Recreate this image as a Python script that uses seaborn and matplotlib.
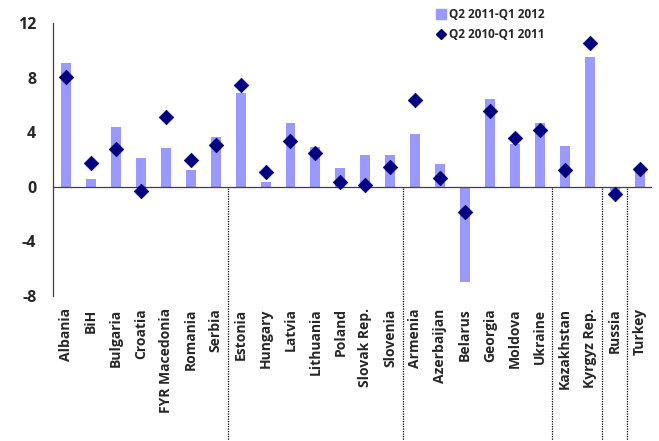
import matplotlib
matplotlib.use("Agg")
import matplotlib.pyplot as plt
import matplotlib.transforms as mtransforms
from matplotlib.lines import Line2D
import seaborn as sns
import pandas as pd

countries = ["Albania", "BiH", "Bulgaria", "Croatia", "FYR Macedonia", "Romania", "Serbia",
             "Estonia", "Hungary", "Latvia", "Lithuania", "Poland", "Slovak Rep.", "Slovenia",
             "Armenia", "Azerbaijan", "Belarus", "Georgia", "Moldova", "Ukraine",
             "Kazakhstan", "Kyrgyz Rep.", "Russia", "Turkey"]
q2_2011_q1_2012 = [9.1, 0.6, 4.4, 2.1, 2.85, 1.25, 3.65,
                   6.85, 0.37, 4.65, 2.9, 1.4, 2.3, 2.3,
                   3.85, 1.65, -7.0, 6.4, 3.1, 4.7,
                   3.0, 9.5, -0.3, 1.3]
q2_2010_q1_2011 = [8.05, 1.72, 2.73, -0.29, 5.1, 1.94, 3.02,
                   7.45, 1.06, 3.32, 2.48, 0.35, 0.15, 1.42,
                   6.32, 0.64, -1.84, 5.58, 3.54, 4.13,
                   1.2, 10.55, -0.55, 1.3]
group_breaks = [6.5, 13.5, 19.5, 21.5, 22.5]
yticks = [-8, -4, 0, 4, 8, 12]

df = pd.DataFrame({"country": countries, "a": q2_2011_q1_2012, "b": q2_2010_q1_2011})

sns.set_style("white")
plt.rcParams["font.family"] = ["Open Sans", "DejaVu Sans"]
plt.rcParams["font.weight"] = "bold"

fig = plt.figure(figsize=(6.59, 4.41), dpi=100)
ax = fig.add_axes([0.0804, 0.329, 0.9086, 0.619])

bar_color = "#9999FF"
dia_color = "#000080"

sns.barplot(data=df, x="country", y="a", color=bar_color, width=0.4, ax=ax,
            saturation=1, edgecolor="none")
sns.scatterplot(data=df, x="country", y="b", marker="D", color=dia_color, s=55,
                edgecolor=dia_color, linewidth=0.5, ax=ax, zorder=5)

ax.set_xlim(-0.52, 23.48)
ax.set_ylim(-8, 12)
ax.set_yticks(yticks)
ax.set_yticklabels([str(t) for t in yticks], fontsize=11.5, fontweight="bold")
ax.set_xlabel("")
ax.set_ylabel("")
ax.tick_params(axis="y", length=0, pad=12)
ax.tick_params(axis="x", length=0, pad=9)
for lab in ax.get_xticklabels():
    lab.set_rotation(90)
    lab.set_fontsize(10)
    lab.set_fontweight("bold")

for s in ["top", "right", "bottom"]:
    ax.spines[s].set_visible(False)
ax.spines["left"].set_color("#404040")
ax.spines["left"].set_linewidth(0.9)
ax.axhline(0, color="#404040", lw=0.9, zorder=4)

trans = mtransforms.blended_transform_factory(ax.transData, fig.transFigure)
for xb in group_breaks:
    ax.plot([xb, xb], [1 - 188 / 441, 0], transform=trans, color="black",
            lw=0.9, ls=(0, (1, 1)), clip_on=False)

handles = [Line2D([0], [0], marker="s", color="none", markerfacecolor=bar_color,
                  markeredgecolor=bar_color, markersize=7, label="Q2 2011-Q1 2012"),
           Line2D([0], [0], marker="D", color="none", markerfacecolor=dia_color,
                  markeredgecolor=dia_color, markersize=5, label="Q2 2010-Q1 2011")]
leg = fig.legend(handles=handles, loc="upper left", bbox_to_anchor=(428 / 659, 1.0),
                 frameon=False, fontsize=8.5, handlelength=0.8, handletextpad=0.3,
                 labelspacing=0.6, borderpad=0.2)
for t in leg.get_texts():
    t.set_fontweight("bold")

fig.savefig("out.png", dpi=100)
